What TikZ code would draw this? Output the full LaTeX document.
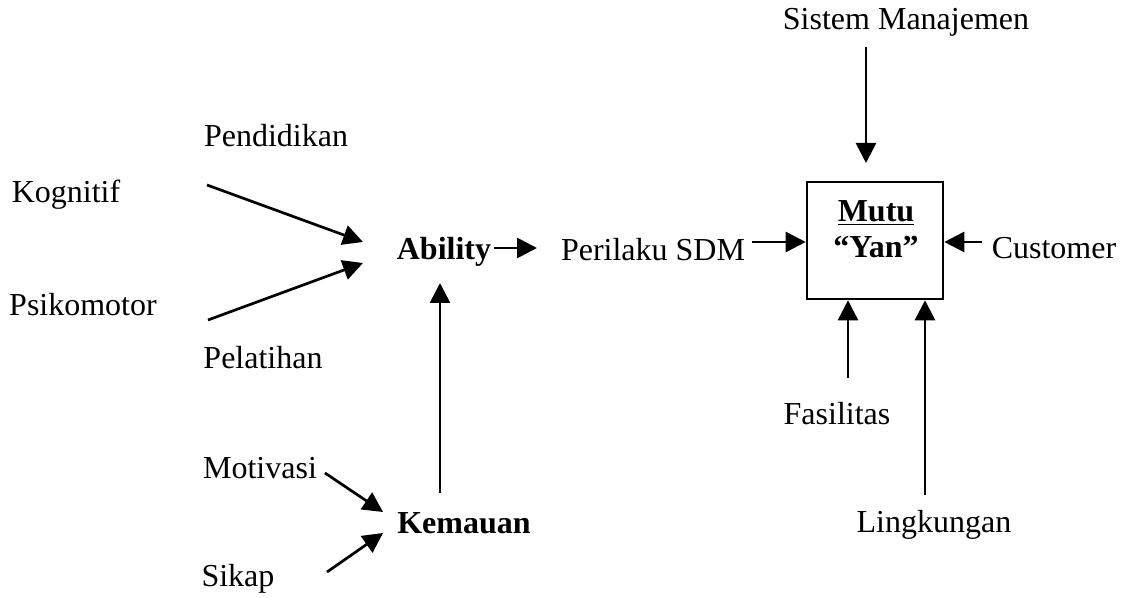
\documentclass[tikz,border=0pt]{standalone}
\usepackage{fontspec}
\setmainfont{Liberation Serif}
\usetikzlibrary{arrows.meta}

\begin{document}
\begin{tikzpicture}[
      x=0.5pt, y=-0.5pt,
      every node/.style={font=\fontsize{16}{19}\selectfont, inner sep=0pt},
      key/.style={font=\fontsize{16}{19}\selectfont\bfseries},
      qbox/.style={draw, line width=1.3pt, minimum width=68pt, minimum height=58.5pt},
      arr/.style={line width=1.35pt, -{Triangle[length=10pt,width=10pt]}}
    ]
      \useasboundingbox (0,0) rectangle (1126,598);

      % labels
      \node (sistem) at (906,22) {Sistem Manajemen};
      \node (pendidikan) at (276,136) {Pendidikan};
      \node (kognitif) at (66,195) {Kognitif};
      \node[key] (ability) at (444,252) {Ability};
      \node (perilaku) at (653,250) {Perilaku SDM};
      \node (customer) at (1054,248) {Customer};
      \node (psikomotor) at (83,305) {Psikomotor};
      \node (pelatihan) at (263,358) {Pelatihan};
      \node (fasilitas) at (837,414) {Fasilitas};
      \node (motivasi) at (260,468) {Motivasi};
      \node[key] (kemauan) at (464,523) {Kemauan};
      \node (lingkungan) at (934,525) {Lingkungan};
      \node (sikap) at (238,579) {Sikap};

      % box
      \node[qbox] (mutu) at (875,240.5) {};
      \node[key] (mututxt) at (876,213) {\underline{Mutu}};
      \node[key] (yan) at (876,247) {“Yan”};

      % free ends
      \coordinate (kogS) at (207,185);
      \coordinate (kogT) at (363,242);
      \coordinate (psiS) at (208,320);
      \coordinate (psiT) at (363,263);
      \coordinate (motS) at (325,473);
      \coordinate (motT) at (383,512);
      \coordinate (sikS) at (327,572);
      \coordinate (sikT) at (383,533);
      \coordinate (abiS) at (494,248);
      \coordinate (abiT) at (537,248);
      \coordinate (kemS) at (440,493);
      \coordinate (kemT) at (440,283);
      \coordinate (perS) at (752,242);
      \coordinate (cusS) at (982,242);
      \coordinate (sisS) at (866,47);
      \coordinate (fasS) at (848,378);
      \coordinate (linS) at (925,495);

      % connectors
      \draw[arr] (kogS) -- (kogT);
      \draw[arr] (psiS) -- (psiT);
      \draw[arr] (motS) -- (motT);
      \draw[arr] (sikS) -- (sikT);
      \draw[arr] (abiS) -- (abiT);
      \draw[arr] (kemS) -- (kemT);
      \draw[arr] (perS) -- (perS -| mutu.west);
      \draw[arr] (cusS) -- (cusS -| mutu.east);
      \draw[arr] (sisS) -- (866,163);
      \draw[arr] (fasS) -- (fasS |- mutu.south);
      \draw[arr] (linS) -- (linS |- mutu.south);
    \end{tikzpicture}
\end{document}
